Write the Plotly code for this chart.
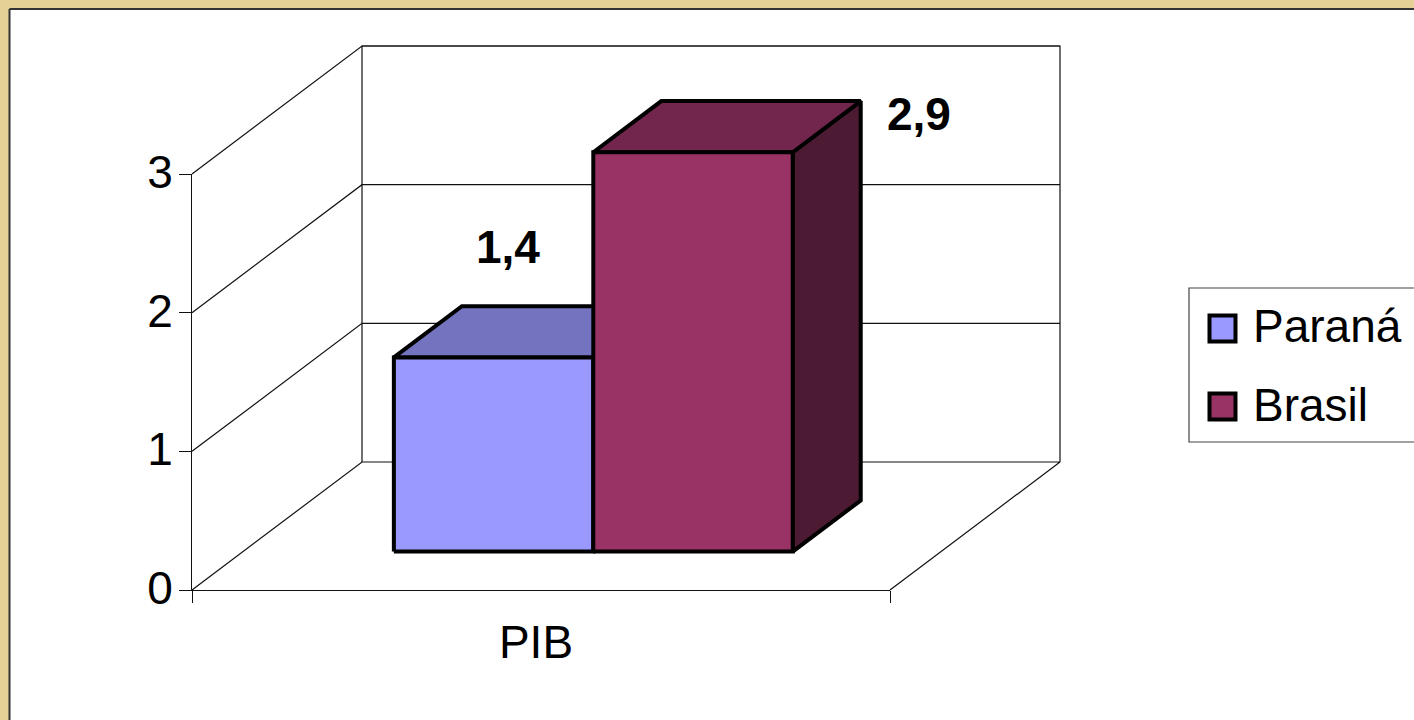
import plotly.graph_objects as go

# ---- data ----
category = ["PIB"]
series_names = ["Paraná", "Brasil"]
series_values = [1.4, 2.88]
series_labels = ["1,4", "2,9"]
value_ticks = [0, 1, 2, 3]

# ---- styles ----
FRONT = ["#9999FF", "#993366"]
TOP = ["#7373BF", "#73264D"]
SIDE = ["#4D4D80", "#4D1A33"]
TAN = "#E5D196"
EDGE = "#000000"
WALL = "#111111"
FONT = "Liberation Sans, Arial, sans-serif"
FS = 46

W, H = 1414, 720
L, R, T, B = 192, 890, 174, 590  # front plane of the box in page pixels
UNIT_X = R - L
UNIT_Y = (B - T) / value_ticks[-1]
DX = 170 / UNIT_X                 # oblique depth projection, in axis units
DY = 128 / UNIT_Y


def px(x):
    return x / W


def py(y):
    return 1 - y / H


def proj(u, v, d):
    """Oblique projection of (category position, value, depth) to axis units."""
    return u + d * DX, v + d * DY


def poly(points, fill, lw=4, color=EDGE):
    xs, ys = zip(*[proj(*p) for p in points])
    return go.Scatter(x=list(xs) + [xs[0]], y=list(ys) + [ys[0]], mode="lines", fill="toself",
                      fillcolor=fill, line=dict(color=color, width=lw),
                      xaxis="x2", yaxis="y2", showlegend=False, hoverinfo="skip")


def wire(points, width=1.2):
    xs, ys = zip(*[proj(*p) for p in points])
    return go.Scatter(x=xs, y=ys, mode="lines", line=dict(color=WALL, width=width),
                      xaxis="x2", yaxis="y2", showlegend=False, hoverinfo="skip")


fig = go.Figure()

# invisible anchor so that the visible axes are drawn
fig.add_trace(go.Scatter(x=[0.5], y=[0], mode="markers", marker=dict(opacity=0),
                         showlegend=False, hoverinfo="skip"))

# walls and floor of the 3-D box
top_v = value_ticks[-1]
fig.add_trace(wire([(0, 0, 0), (0, 0, 1), (1, 0, 1), (1, 0, 0)]))
fig.add_trace(wire([(0, 0, 1), (0, top_v, 1), (1, top_v, 1), (1, 0, 1)]))
for v in value_ticks[1:]:
    fig.add_trace(wire([(0, v, 0), (0, v, 1), (1, v, 1)]))

# bars
bar_w = 1 / 3.5
start = 0.7565 / 3.5
d0, d1 = 0.3, 0.7
for i, v in enumerate(series_values):
    u0, u1 = start + i * bar_w, start + (i + 1) * bar_w
    fig.add_trace(poly([(u1, 0, d0), (u1, 0, d1), (u1, v, d1), (u1, v, d0)], SIDE[i]))
    fig.add_trace(poly([(u0, v, d0), (u0, v, d1), (u1, v, d1), (u1, v, d0)], TOP[i]))
    fig.add_trace(poly([(u0, 0, d0), (u1, 0, d0), (u1, v, d0), (u0, v, d0)], FRONT[i]))

# legend swatches
swatch_y = [328.5, 406.5]
for name, color, y in zip(series_names, FRONT, swatch_y):
    fig.add_trace(go.Scatter(x=[(1222.5 - L) / UNIT_X], y=[(B - y) / UNIT_Y], mode="markers",
                             marker=dict(symbol="square", size=26, color=color,
                                         line=dict(color="#000000", width=4)),
                             xaxis="x2", yaxis="y2", showlegend=False, hoverinfo="skip", name=name))

shapes = [
    dict(type="rect", xref="paper", yref="paper", x0=px(10), x1=1.1, y0=py(9), y1=-0.1,
         fillcolor="#FFFFFF", line=dict(width=0), layer="below"),
    dict(type="line", xref="paper", yref="paper", x0=px(9.5), x1=1.1, y0=py(9), y1=py(9),
         line=dict(color="#333333", width=2), layer="below"),
    dict(type="line", xref="paper", yref="paper", x0=px(9.5), x1=px(9.5), y0=py(9), y1=-0.1,
         line=dict(color="#333333", width=2), layer="below"),
    dict(type="rect", xref="paper", yref="paper", x0=px(1189), x1=1.1, y0=py(288), y1=py(442),
         fillcolor="#FFFFFF", line=dict(color="#444444", width=1.2), layer="below"),
]

annotations = []
for text, x, y in zip(series_labels, [508, 919], [247, 114]):
    annotations.append(dict(text=f"<b>{text}</b>", xref="paper", yref="paper", x=px(x), y=py(y),
                            xanchor="center", yanchor="middle", showarrow=False,
                            font=dict(family=FONT, size=FS, color="#000000")))
for name, y in zip(series_names, [326, 405]):
    annotations.append(dict(text=name, xref="paper", yref="paper", x=px(1251), y=py(y),
                            xanchor="left", yanchor="middle", showarrow=False,
                            font=dict(family=FONT, size=FS, color="#000000")))

fig.update_layout(
    width=W, height=H, autosize=False,
    margin=dict(l=0, r=0, t=0, b=0, pad=0, autoexpand=False),
    paper_bgcolor=TAN, plot_bgcolor="rgba(0,0,0,0)",
    showlegend=False, shapes=shapes, annotations=annotations,
    font=dict(family=FONT, size=FS, color="#000000"),
    xaxis=dict(domain=[L / W, R / W], range=[0, 1], tickmode="array", tickvals=[0.5],
               ticktext=category, ticks="", showgrid=False, zeroline=False, showline=True,
               linecolor=WALL, linewidth=1, ticklabelstandoff=12, ticklabelshift=-5, fixedrange=True,
               minor=dict(tickmode="array", tickvals=[0, 1], ticks="outside", ticklen=12,
                          tickcolor=WALL, tickwidth=1, showgrid=False)),
    yaxis=dict(domain=[1 - B / H, 1 - T / H], range=[0, top_v], tickmode="array",
               tickvals=value_ticks, ticktext=[str(v) for v in value_ticks], ticks="outside",
               ticklen=12, tickcolor=WALL, tickwidth=1, showgrid=False, zeroline=False,
               showline=True, linecolor=WALL, linewidth=1, ticklabelstandoff=-3, ticklabelshift=-2,
               fixedrange=True),
    xaxis2=dict(domain=[0, 1], range=[-L / UNIT_X, (W - L) / UNIT_X], visible=False,
                anchor="y2", fixedrange=True),
    yaxis2=dict(domain=[0, 1], range=[(B - H) / UNIT_Y, B / UNIT_Y], visible=False,
                anchor="x2", fixedrange=True),
)

fig.write_html("out.html", config=dict(displayModeBar=False, staticPlot=True),
               post_script="document.body.style.margin='0';document.body.style.overflow='hidden';")
